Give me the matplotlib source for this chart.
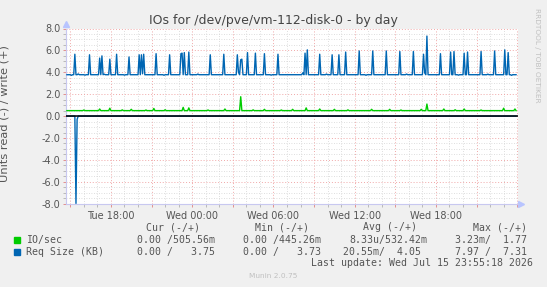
import numpy as np
import matplotlib
matplotlib.use("Agg")
import matplotlib.pyplot as plt

# time axis in hours since Tue 00:00, 5 minute samples, last one at Wed 23:55
t_start = 14.75
t_end = 47.92
step = 1 / 12

# Req Size (KB), write side: baseline and spikes (hour, value)
req_base = 3.78
req_spike_t = [15.37, 16.42, 17.14, 17.35, 17.94, 18.41, 19.36, 20.10, 20.21, 20.42,
               21.37, 22.37, 23.15, 23.28, 23.43, 23.79, 25.34, 26.32, 27.32, 27.58,
               27.70, 28.12, 28.69, 29.33, 30.33, 32.37, 32.50, 33.38, 34.36, 34.82,
               35.33, 36.32, 37.34, 38.35, 39.33, 40.36, 41.06, 41.31, 42.32, 43.07,
               43.30, 44.07, 44.33, 45.33, 46.34, 47.08, 47.31]
req_spike_v = [5.65, 5.60, 5.30, 5.50, 5.20, 5.65, 5.40, 5.60, 5.60, 5.65,
               5.70, 5.60, 5.70, 5.75, 5.80, 5.85, 5.60, 5.65, 5.60, 5.15,
               5.20, 5.80, 5.75, 5.70, 5.65, 5.75, 6.05, 5.65, 5.60, 5.60,
               5.85, 5.95, 5.95, 5.95, 5.90, 5.90, 5.65, 7.31, 5.70, 5.85,
               5.90, 5.75, 5.85, 5.90, 5.95, 6.05, 5.80]
# small wiggles of the baseline (hour, value)
req_wig_t = [15.05, 15.6, 16.1, 17.5, 19.0, 20.3, 21.9, 24.4, 27.45, 27.64, 29.8, 32.2,
             33.9, 36.8, 39.8, 41.2, 43.7, 45.8, 47.6]
req_wig_v = [3.72, 3.85, 3.74, 3.83, 3.74, 3.86, 3.73, 3.84, 4.00, 4.05, 3.74, 3.95,
             3.84, 3.73, 3.84, 3.95, 3.74, 3.83, 3.72]
# Req Size (KB), read side (drawn negative)
req_read_t = [15.42, 15.50]
req_read_v = [7.97, 0.30]

# IO/sec, write side
io_base = 0.50
io_bump_t = [17.14, 17.93, 19.48, 21.18, 23.30, 23.78, 26.42, 27.58, 29.30, 31.44,
             32.45, 33.43, 34.54, 37.25, 38.60, 40.93, 41.31, 42.60, 44.10, 46.97, 47.84,
             16.0, 18.8, 20.6, 22.0, 25.2, 28.5, 30.6, 35.5, 39.4, 43.4, 45.3]
io_bump_v = [0.65, 0.72, 0.62, 0.70, 0.80, 0.75, 0.65, 1.77, 0.62, 0.62,
             0.75, 0.65, 0.62, 0.62, 0.62, 0.62, 1.10, 0.65, 0.65, 0.72, 0.65,
             0.56, 0.57, 0.56, 0.58, 0.56, 0.57, 0.56, 0.57, 0.56, 0.58, 0.56]

xtick_hours = [15, 18, 21, 24, 27, 30, 33, 36, 39, 42, 45, 48]
xtick_names = {18: "Tue 18:00", 24: "Wed 00:00", 30: "Wed 06:00", 36: "Wed 12:00", 42: "Wed 18:00"}

legend_names = ["IO/sec", "Req Size (KB)"]
legend_cur = ["0.00 /505.56m", "0.00 /   3.75"]
legend_min = ["0.00 /445.26m", "0.00 /   3.73"]
legend_avg = ["8.33u/532.42m", "20.55m/  4.05"]
legend_max = ["3.23m/  1.77", "7.97 /  7.31"]

GREEN = "#00cc00"
BLUE = "#0066b3"
BG = "#f0f0f0"
TXT = "#555555"


def build(base, ts, vs):
    t = np.arange(t_start, t_end + 1e-6, step)
    y = np.full(len(t), base, dtype=float)
    for ti, vi in zip(ts, vs):
        y[int(round((ti - t_start) / step))] = vi
    return t, y


t, req_w = build(req_base, req_wig_t + req_spike_t, req_wig_v + req_spike_v)
_, req_r = build(0.0, req_read_t, req_read_v)
_, io_w = build(io_base, io_bump_t, io_bump_v)

W, H = 547, 287
fig = plt.figure(figsize=(W / 100, H / 100), dpi=100, facecolor=BG)
L, R, T, B = 66, 518, 28.5, 203.7
ax = fig.add_axes([L / W, 1 - B / H, (R - L) / W, (B - T) / H])
ax.set_facecolor("white")
ax.set_xlim(14.68, 48.06)
ax.set_ylim(-8, 8)

ax.set_xticks(xtick_hours)
ax.set_xticks(np.arange(15, 49, 1), minor=True)
ax.set_xticklabels([xtick_names.get(h, "") for h in xtick_hours])
ax.set_yticks(np.arange(-8, 8.1, 2))
ax.set_yticks(np.arange(-8, 8.1, 0.5), minor=True)
ax.set_yticklabels(["%.1f" % v for v in np.arange(-8, 8.1, 2)])

ax.grid(which="minor", color="#d4d4d4", linestyle=(0, (1, 2)), linewidth=0.6)
ax.grid(which="major", color="#f0a8a8", linestyle=(0, (1, 2)), linewidth=0.7)
ax.set_axisbelow(True)
ax.tick_params(which="both", length=2, width=0.6, labelsize=7, labelcolor=TXT, pad=2)
ax.tick_params(axis="x", pad=3)
ax.tick_params(which="major", color="#e08080")
ax.tick_params(which="minor", color="#b0b0b0")

for s in ["top", "right"]:
    ax.spines[s].set_visible(False)
for s in ["left", "bottom"]:
    ax.spines[s].set_color("#c8c8f0")
    ax.spines[s].set_linewidth(0.8)
# axis arrows
ax.plot([1.006], [0], marker=">", color="#b8c4ff", markersize=4, transform=ax.transAxes, clip_on=False)
ax.plot([0], [1.025], marker="^", color="#b8c4ff", markersize=4, transform=ax.transAxes, clip_on=False)

ax.plot(t, -req_r, color=BLUE, linewidth=1.0, zorder=3)
ax.axhline(0, color="black", linewidth=1.1, zorder=3.5)
ax.plot(t, req_w, color=BLUE, linewidth=1.0, zorder=4)
ax.plot(t, io_w, color=GREEN, linewidth=1.0, zorder=4)

ax.set_ylabel("Units read (-) / write (+)", fontsize=8.2, color=TXT)
ax.yaxis.set_label_coords((10 - L) / (R - L), (B - 114) / (B - T))

fig.text(0.5, 1 - 20.5 / H, "IOs for /dev/pve/vm-112-disk-0 - by day", ha="center", va="center",
         fontsize=9, color="#444444")
fig.text(537 / W, 1 - 55 / H, "RRDTOOL / TOBI OETIKER", rotation=270, ha="center", va="center",
         fontsize=5.3, color="#c0c0c0")

mono = dict(family="DejaVu Sans Mono", fontsize=7.1, color=TXT, va="center")


def put(x, y, s, **kw):
    fig.text(x / W, 1 - y / H, s, **{**mono, **kw})


put(146.5, 227.3, "Cur (-/+)")
put(254.7, 227.3, "Min (-/+)")
put(362.8, 227.3, "Avg (-/+)")
put(472.7, 227.3, "Max (-/+)")
for i, (name, col) in enumerate(zip(legend_names, [GREEN, BLUE])):
    y = 239.7 + 12 * i
    fig.patches.append(plt.Rectangle((14 / W, 1 - (y + 3) / H), 6 / W, 6 / H,
                                     transform=fig.transFigure, color=col))
    put(26.2, y, name)
    put(137.1, y, legend_cur[i])
    put(243.2, y, legend_min[i])
    put(348.9 - 6 * i, y, legend_avg[i])
    put(454.6, y, legend_max[i])
put(532.7, 263.3, "Last update: Wed Jul 15 23:55:18 2026", ha="right")
fig.text(272.8 / W, 1 - 276 / H, "Munin 2.0.75", ha="center", va="center", fontsize=5.3, color="#c0c0c0")

fig.savefig("out.png", dpi=100, facecolor=BG)
